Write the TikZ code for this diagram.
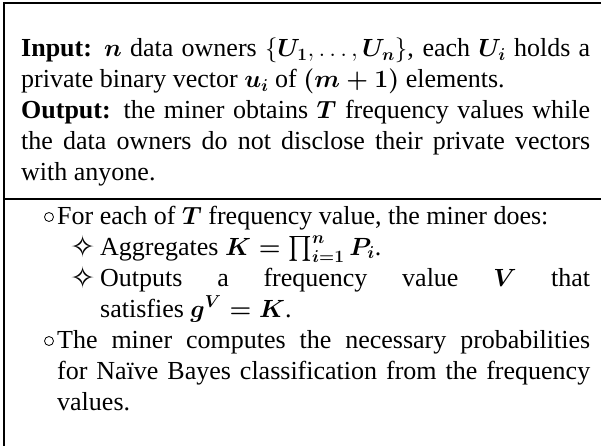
\documentclass[tikz,border=0pt]{standalone}
\usepackage{amsmath}
\usepackage{fontspec}
\setmainfont{Liberation Serif}
\newfontfamily\symfont{DejaVu Sans}
\newcommand{\bodyfont}{\fontsize{26}{31}\selectfont}
\hyphenpenalty=10000
\exhyphenpenalty=10000

\begin{document}
\begin{tikzpicture}[x=1pt, y=-1pt,
  frame/.style={line width=1.4pt},
  para/.style={anchor=base west, inner sep=0pt, align=justify, font=\bodyfont},
  ring/.style={circle, draw, line width=0.8pt, minimum size=9pt, inner sep=0pt},
  star/.style={anchor=base, inner sep=0pt, font=\symfont\fontsize{30}{30}\selectfont}
]
  \useasboundingbox (0,0) rectangle (601,446);
  \draw[frame] (601,3) -- (4,3) -- (4,446);
  \draw[frame] (4,199) -- (601,199);

  \node[para, text width=569pt] (inout) at (21,57) {
    \textbf{Input:} $\boldsymbol{n}$ data owners $\{\boldsymbol{U_1},\ldots,\boldsymbol{U_n}\}$, each $\boldsymbol{U_i}$ holds a\linebreak
    private binary vector $\boldsymbol{u_i}$ of $\boldsymbol{(m+1)}$ elements.\par
    \textbf{Output:} the miner obtains $\boldsymbol{T}$ frequency values while\linebreak
    the data owners do not disclose their private vectors\linebreak
    with anyone.
  };

  \node[ring] (ring1) at (49,217) {};
  \node[para, text width=533pt] (foreach) at (57,224) {
    For each of $\boldsymbol{T}$ frequency value, the miner does:
  };
  \node[star] (star1) at (83,257) {✧};
  \node[para, text width=490pt] (aggr) at (100,255) {
    Aggregates $\boldsymbol{K=\smash{\prod_{i=1}^{n}}\,P_i}$.
  };
  \node[star] (star2) at (83,288) {✧};
  \node[para, text width=490pt] (outval) at (100,286) {
    Outputs a frequency value $\boldsymbol{V}$ that\linebreak
    satisfies $\boldsymbol{g^V=K}$.
  };
  \node[ring] (ring2) at (49,341) {};
  \node[para, text width=533pt] (probs) at (57,348) {
    The miner computes the necessary probabilities\linebreak
    for Naïve Bayes classification from the frequency\linebreak
    values.
  };
\end{tikzpicture}
\end{document}
